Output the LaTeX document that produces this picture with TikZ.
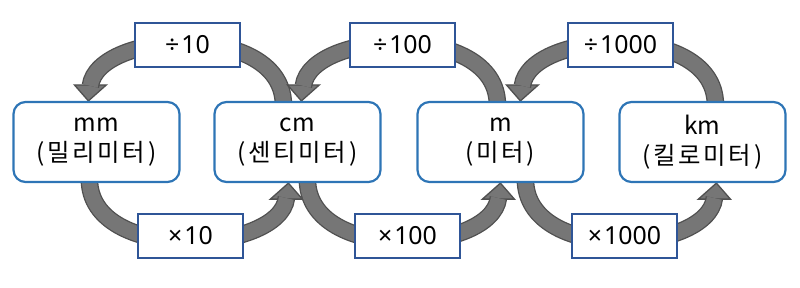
\documentclass[tikz,border=0pt]{standalone}
\usepackage{fontspec}
\setmainfont{Noto Sans CJK KR}
\newfontfamily\opfont{Noto Sans}
\newfontfamily\korfont[LetterSpace=11]{Noto Sans CJK KR}
\usetikzlibrary{calc,backgrounds}
\definecolor{unitblue}{RGB}{46,117,182}
\definecolor{opblue}{RGB}{47,85,151}
\definecolor{arrfill}{RGB}{118,118,118}
\definecolor{arrline}{RGB}{80,80,80}
\begin{document}
\begin{tikzpicture}[x=1bp,y=-1bp,
  unit/.style={draw=unitblue, line width=2.2bp, rounded corners=12bp, fill=white,
    minimum width=166bp, minimum height=80bp, align=center, inner sep=0pt,
    font=\fontsize{24.5}{30}\selectfont},
  op/.style={draw=opblue, line width=2bp, fill=white, minimum width=105bp,
    minimum height=44bp, inner sep=0pt, font=\opfont\fontsize{25}{28}\selectfont},
  body/.style={draw=arrline, line width=1.3bp, double=arrfill, double distance=15bp},
  head/.style={draw=arrline, fill=arrfill, line width=1.3bp, line join=miter}]
\useasboundingbox (0,0) rectangle (800,287);

\node[unit] (mm) at (96.5,142) {mm\\{\korfont(밀리미터)}};
\node[unit] (cm) at (297.5,142) {cm\\{\korfont(센티미터)}};
\node[unit] (m)  at (500.5,142) {m\\{\korfont(미터)}};
\node[unit] (km) at (702.5,142) {km\\{\korfont(킬로미터)}};

\node[op] (d10)   at (187.5,45) {÷\kern2bp10};
\node[op] (d100)  at (402.5,45) {÷\kern2bp100};
\node[op] (d1000) at (620.5,45) {÷\kern2bp1000};
\node[op] (x10)   at (190.5,235.5) {×\kern2bp10};
\node[op] (x100)  at (407.5,235.5) {×\kern2bp100};
\node[op] (x1000) at (624.5,235.5) {×\kern2bp1000};

\begin{pgfonlayer}{background}
% top arcs: tail on right box, head on left box
\foreach \tl/\toff/\hd/\hoff/\i in {cm/70/mm/76/1, m/81/cm/88/2, km/97/m/104/3}{
  \coordinate (t\i) at ($(\tl.north west)+(\toff,4)$);
  \coordinate (p\i) at ($(\hd.north west)+(\hoff,0)$);
  \coordinate (b\i) at ($(p\i)+(2,-16)$);
  \draw[head] ($(b\i)+(-16,0)$) -- (p\i) -- ($(b\i)+(16,0)$) -- cycle;
  \draw[body] (t\i) .. controls ($(t\i)+(0,-84)$) and ($(b\i)+(7,-55)$) .. ($(b\i)+(0,1)$);
}
% bottom arcs: tail on left box, head on right box
\foreach \tl/\toff/\hd/\hoff/\i in {mm/77/cm/75/4, cm/94/m/84/5, m/109/km/98/6}{
  \coordinate (t\i) at ($(\tl.south west)+(\toff,-4)$);
  \coordinate (p\i) at ($(\hd.south west)+(\hoff,0)$);
  \coordinate (b\i) at ($(p\i)+(-2,16)$);
  \draw[head] ($(b\i)+(-16,0)$) -- (p\i) -- ($(b\i)+(16,0)$) -- cycle;
  \draw[body] (t\i) .. controls ($(t\i)+(0,85)$) and ($(b\i)+(-7,55)$) .. ($(b\i)+(0,-1)$);
}
\end{pgfonlayer}
\end{tikzpicture}
\end{document}
